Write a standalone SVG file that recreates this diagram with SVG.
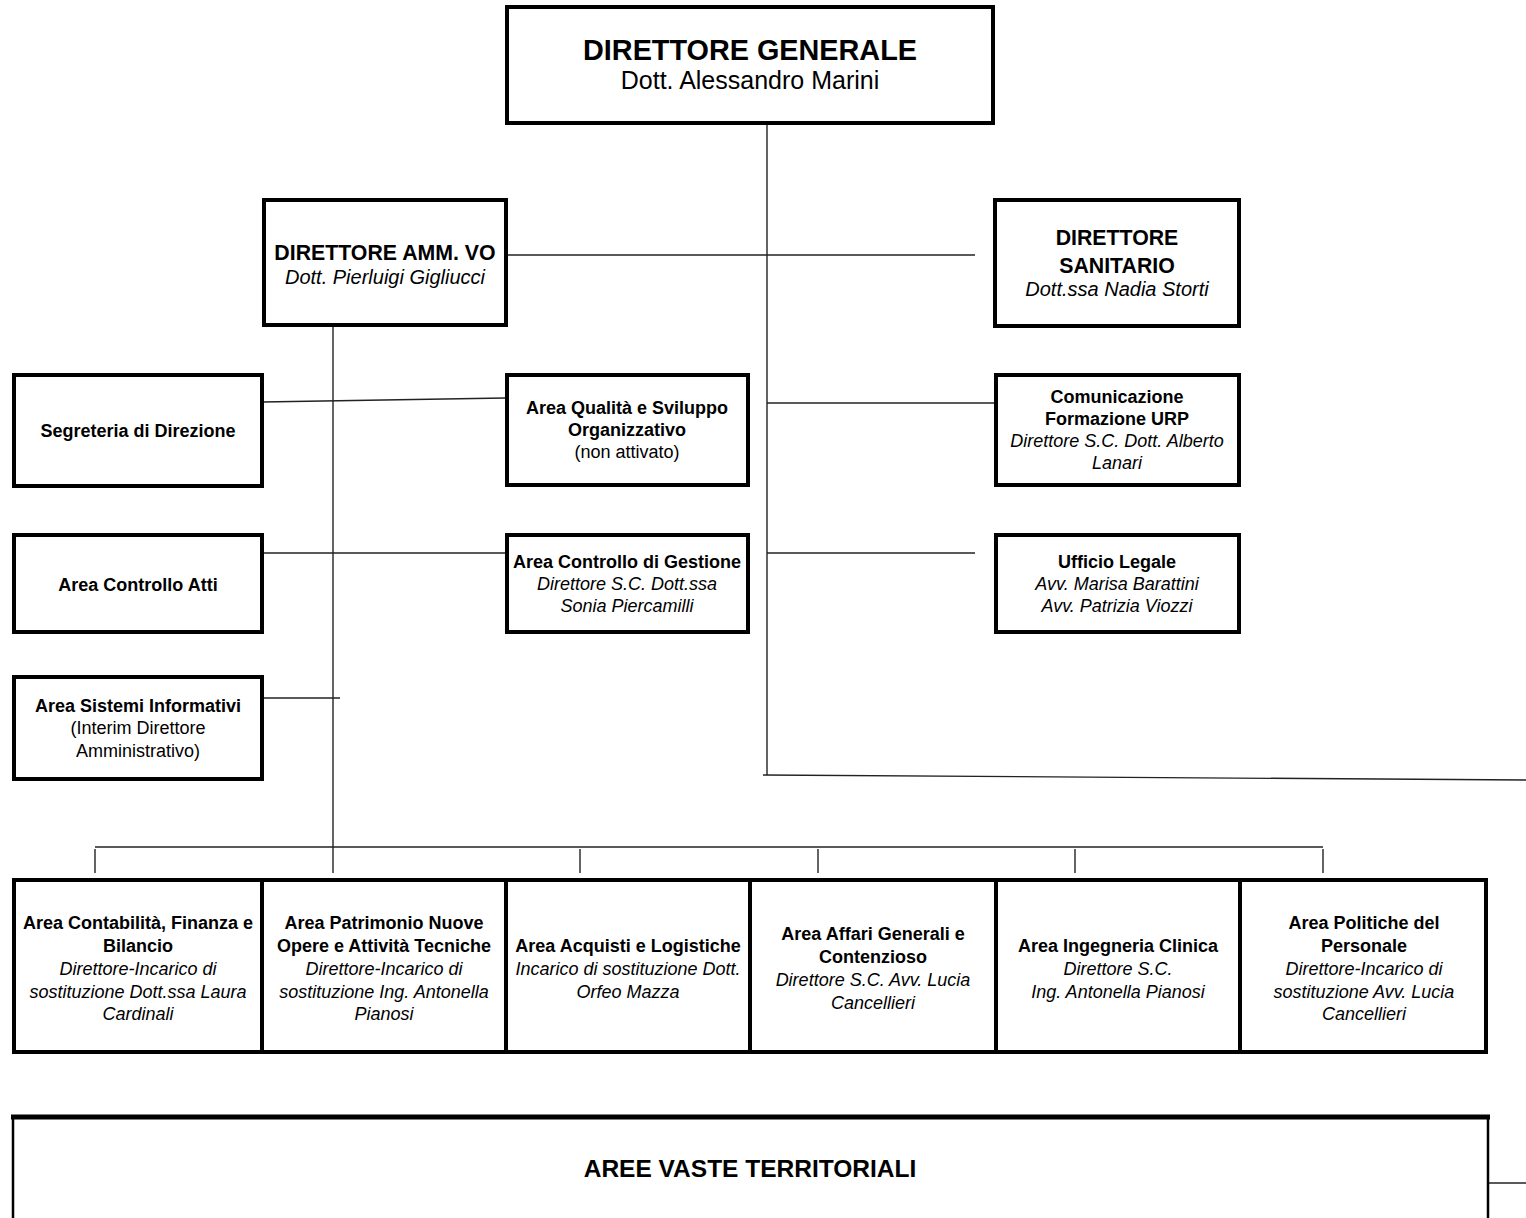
<svg xmlns="http://www.w3.org/2000/svg" width="1526" height="1218" viewBox="0 0 1526 1218">
<style>
.box{fill:#fff;stroke:#000;stroke-width:4}
.ln{stroke:#222;stroke-width:1.4;fill:none}
text{font-family:"Liberation Sans",Arial,sans-serif;fill:#000;text-anchor:middle}
.b{font-weight:bold;font-size:18px}
.r{font-size:18px}
.i{font-style:italic;font-size:18px}
.bb{font-weight:bold;font-size:21.3px}
.ii{font-style:italic;font-size:20px}
</style>
<rect width="1526" height="1218" fill="#fff"/>
<g id="connectors">
<line class="ln" x1="767" y1="123" x2="767" y2="775"/>
<line class="ln" x1="763" y1="775" x2="1526" y2="780"/>
<line class="ln" x1="506" y1="255" x2="975" y2="255"/>
<line class="ln" x1="333" y1="326" x2="333" y2="873"/>
<line class="ln" x1="262" y1="402" x2="505" y2="398"/>
<line class="ln" x1="767" y1="403" x2="995" y2="403"/>
<line class="ln" x1="262" y1="553" x2="505" y2="553"/>
<line class="ln" x1="767" y1="553" x2="975" y2="553"/>
<line class="ln" x1="262" y1="698" x2="340" y2="698"/>
<line class="ln" x1="95" y1="847" x2="1323" y2="847"/>
<line class="ln" x1="95" y1="849" x2="95" y2="873"/>
<line class="ln" x1="580" y1="849" x2="580" y2="873"/>
<line class="ln" x1="818" y1="849" x2="818" y2="873"/>
<line class="ln" x1="1075" y1="849" x2="1075" y2="873"/>
<line class="ln" x1="1323" y1="849" x2="1323" y2="873"/>
<line class="ln" x1="1488" y1="1183" x2="1526" y2="1183"/>
</g>
<g id="dg">
<rect class="box" x="507" y="7" width="486" height="116"/>
<text x="750" y="60" style="font-weight:bold;font-size:28.8px">DIRETTORE GENERALE</text>
<text x="750" y="89" style="font-size:25px">Dott. Alessandro Marini</text>
</g>
<g id="da">
<rect class="box" x="264" y="200" width="242" height="125"/>
<text class="bb" x="385" y="260">DIRETTORE AMM. VO</text>
<text class="ii" x="385" y="284">Dott. Pierluigi Gigliucci</text>
</g>
<g id="ds">
<rect class="box" x="995" y="200" width="244" height="126"/>
<text class="bb" x="1117" y="245">DIRETTORE</text>
<text class="bb" x="1117" y="273">SANITARIO</text>
<text class="ii" x="1117" y="296">Dott.ssa Nadia Storti</text>
</g>
<g id="segreteria">
<rect class="box" x="14" y="375" width="248" height="111"/>
<text class="b" x="138" y="437">Segreteria di Direzione</text>
</g>
<g id="qualita">
<rect class="box" x="507" y="375" width="241" height="110"/>
<text class="b" x="627" y="414">Area Qualità e Sviluppo</text>
<text class="b" x="627" y="436">Organizzativo</text>
<text class="r" x="627" y="458">(non attivato)</text>
</g>
<g id="comunicazione">
<rect class="box" x="996" y="375" width="243" height="110"/>
<text class="b" x="1117" y="403">Comunicazione</text>
<text class="b" x="1117" y="425">Formazione URP</text>
<text class="i" x="1117" y="447">Direttore S.C. Dott. Alberto</text>
<text class="i" x="1117" y="469">Lanari</text>
</g>
<g id="controlloatti">
<rect class="box" x="14" y="535" width="248" height="97"/>
<text class="b" x="138" y="591">Area Controllo Atti</text>
</g>
<g id="controllogestione">
<rect class="box" x="507" y="535" width="241" height="97"/>
<text class="b" x="627" y="568">Area Controllo di Gestione</text>
<text class="i" x="627" y="590">Direttore S.C. Dott.ssa</text>
<text class="i" x="627" y="612">Sonia Piercamilli</text>
</g>
<g id="legale">
<rect class="box" x="996" y="535" width="243" height="97"/>
<text class="b" x="1117" y="568">Ufficio Legale</text>
<text class="i" x="1117" y="590">Avv. Marisa Barattini</text>
<text class="i" x="1117" y="612">Avv. Patrizia Viozzi</text>
</g>
<g id="sistemi">
<rect class="box" x="14" y="677" width="248" height="102"/>
<text class="b" x="138" y="712">Area Sistemi Informativi</text>
<text class="r" x="138" y="734">(Interim Direttore</text>
<text class="r" x="138" y="757">Amministrativo)</text>
</g>
<g id="contabilita">
<rect class="box" x="14" y="880" width="248" height="172"/>
<text class="b" x="138" y="929">Area Contabilità, Finanza e</text>
<text class="b" x="138" y="952">Bilancio</text>
<text class="i" x="138" y="975">Direttore-Incarico di</text>
<text class="i" x="138" y="998">sostituzione Dott.ssa Laura</text>
<text class="i" x="138" y="1020">Cardinali</text>
</g>
<g id="patrimonio">
<rect class="box" x="262" y="880" width="244" height="172"/>
<text class="b" x="384" y="929">Area Patrimonio Nuove</text>
<text class="b" x="384" y="952">Opere e Attività Tecniche</text>
<text class="i" x="384" y="975">Direttore-Incarico di</text>
<text class="i" x="384" y="998">sostituzione Ing. Antonella</text>
<text class="i" x="384" y="1020">Pianosi</text>
</g>
<g id="acquisti">
<rect class="box" x="506" y="880" width="244" height="172"/>
<text class="b" x="628" y="952">Area Acquisti e Logistiche</text>
<text class="i" x="628" y="975">Incarico di sostituzione Dott.</text>
<text class="i" x="628" y="998">Orfeo Mazza</text>
</g>
<g id="affari">
<rect class="box" x="750" y="880" width="246" height="172"/>
<text class="b" x="873" y="940">Area Affari Generali e</text>
<text class="b" x="873" y="963">Contenzioso</text>
<text class="i" x="873" y="986">Direttore S.C. Avv. Lucia</text>
<text class="i" x="873" y="1009">Cancellieri</text>
</g>
<g id="ingegneria">
<rect class="box" x="996" y="880" width="244" height="172"/>
<text class="b" x="1118" y="952">Area Ingegneria Clinica</text>
<text class="i" x="1118" y="975">Direttore S.C.</text>
<text class="i" x="1118" y="998">Ing. Antonella Pianosi</text>
</g>
<g id="personale">
<rect class="box" x="1240" y="880" width="246" height="172"/>
<text class="b" x="1364" y="929">Area Politiche del</text>
<text class="b" x="1364" y="952">Personale</text>
<text class="i" x="1364" y="975">Direttore-Incarico di</text>
<text class="i" x="1364" y="998">sostituzione Avv. Lucia</text>
<text class="i" x="1364" y="1020">Cancellieri</text>
</g>
<g id="aree">
<path d="M13 1230 V1117 H1488 V1230" fill="#fff" stroke="none"/>
<line x1="11" y1="1117" x2="1490" y2="1117" stroke="#000" stroke-width="5"/>
<line x1="13" y1="1117" x2="13" y2="1218" stroke="#000" stroke-width="2.5"/>
<line x1="1488" y1="1117" x2="1488" y2="1218" stroke="#000" stroke-width="2.5"/>
<text x="750" y="1177" style="font-weight:bold;font-size:24.5px">AREE VASTE TERRITORIALI</text>
</g>
</svg>
